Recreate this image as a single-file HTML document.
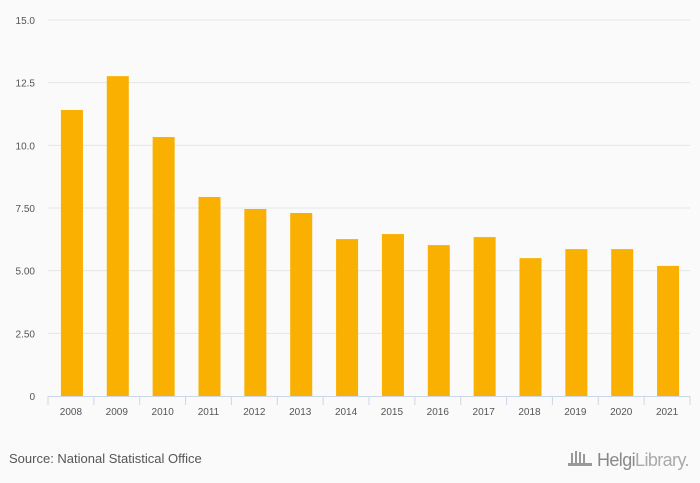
<!DOCTYPE html>
<html><head><meta charset="utf-8"><style>
body{margin:0;background:#fafafa;font-family:"Liberation Sans",sans-serif;}
svg{display:block}
</style></head><body>
<svg id="chart" width="700" height="483" viewBox="0 0 700 483">
<rect width="700" height="483" fill="#fafafa"/>
<g id="grid"></g>
<g id="bars"></g>
<g id="xaxis"></g>
<g id="yaxis"></g>
<text x="9" y="463" font-size="13" fill="#555">Source: National Statistical Office</text>
<g>
<g fill="#999"><rect x="571" y="453" width="2" height="10"/><rect x="575" y="451" width="2" height="12"/><rect x="579" y="452" width="2" height="11"/><rect x="583" y="454" width="2" height="9"/><rect x="568" y="463" width="24" height="3"/></g>
<text x="597" y="466" font-size="18" fill="#888" letter-spacing="-0.6">Helgi<tspan fill="#aaa">Library.</tspan></text>
</g>
</svg>
<script>
const categories=["2008","2009","2010","2011","2012","2013","2014","2015","2016","2017","2018","2019","2020","2021"];
const values=[11.41,12.76,10.33,7.94,7.46,7.30,6.26,6.46,6.02,6.34,5.50,5.86,5.86,5.19];
const yTicks=[0,2.5,5,7.5,10,12.5,15];
const yTickLabels=["0","2.50","5.00","7.50","10.0","12.5","15.0"];
const NS="http://www.w3.org/2000/svg";
const x0=48,x1=690,yBase=396,yTop=20,yMax=15;
const step=(x1-x0)/categories.length;
const y=v=>yBase-(v/yMax)*(yBase-yTop);
const xc=i=>x0+step*(i+0.5);
function mk(t,a,p){const e=document.createElementNS(NS,t);for(const k in a)e.setAttribute(k,a[k]);p.appendChild(e);return e;}
const grid=document.getElementById('grid'),yax=document.getElementById('yaxis'),xax=document.getElementById('xaxis'),bars=document.getElementById('bars');
yTicks.forEach((t,i)=>{
  if(t>0){const l=mk('line',{x1:x0,x2:x1,y1:y(t),y2:y(t),stroke:'#e6e6e6','stroke-width':1},grid);
  
  }
  const tx=mk('text',{x:35,y:y(t)+4,'font-size':10,fill:'#555','text-anchor':'end'},yax);
  tx.textContent=yTickLabels[i];
  
  
});
categories.forEach((c,i)=>{
  const r=mk('rect',{x:xc(i)-10,y:y(values[i]),width:22,height:yBase-y(values[i]),fill:'#f9b000'},bars);
  
  
  const tk=mk('line',{x1:x0+step*i,x2:x0+step*i,y1:yBase,y2:yBase+9,stroke:'#ccd6eb'},xax);
  
  
  const tx=mk('text',{x:xc(i),y:415,'font-size':10,fill:'#555','text-anchor':'middle'},xax);
  tx.textContent=c;
  
  
});
const tk=mk('line',{x1:x1,x2:x1,y1:yBase,y2:yBase+9,stroke:'#ccd6eb'},xax);


const al=mk('line',{x1:x0,x2:x1,y1:yBase+0.5,y2:yBase+0.5,stroke:'#ccd6eb'},xax);


</script>
</body></html>
